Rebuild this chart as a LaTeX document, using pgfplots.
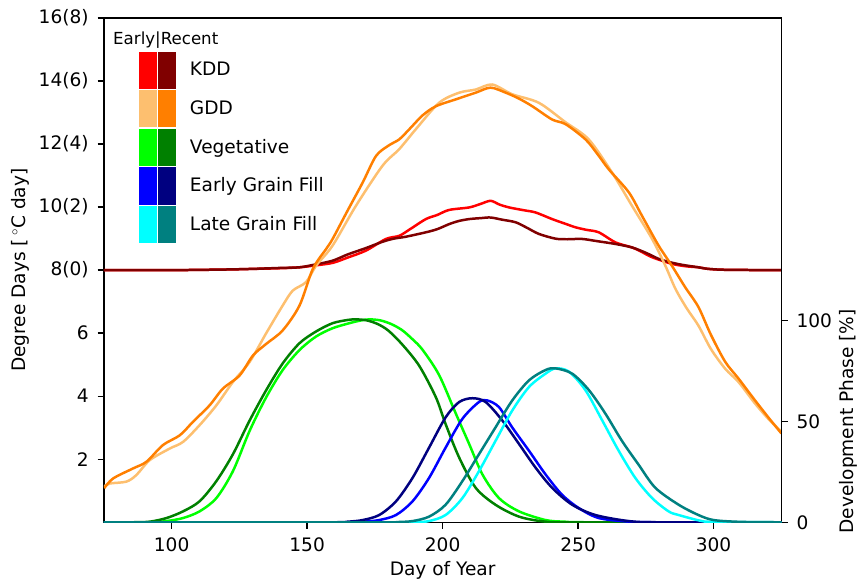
\documentclass[border=0pt]{standalone}
\usepackage{fontspec}
\setmainfont{DejaVu Sans}
\usepackage{pgfplots}
\pgfplotsset{compat=1.18}

\definecolor{kddE}{HTML}{FF0000}
\definecolor{kddR}{HTML}{800000}
\definecolor{gddE}{HTML}{FDBF6F}
\definecolor{gddR}{HTML}{FF7F00}
\definecolor{vegE}{HTML}{00FF00}
\definecolor{vegR}{HTML}{008000}
\definecolor{egfE}{HTML}{0000FF}
\definecolor{egfR}{HTML}{000080}
\definecolor{lgfE}{HTML}{00FFFF}
\definecolor{lgfR}{HTML}{008080}

% two colour patches, early | recent
\newcommand{\pair}[2]{%
  \fill[#1] (0pt,-12.6pt) rectangle (11.5pt,12.6pt);
  \fill[#2] (13.7pt,-12.6pt) rectangle (25.2pt,12.6pt);}

\pgfplotsset{
  common/.style={
    width=489pt, height=364pt, scale only axis,
    xmin=75, xmax=325,
    font=\fontsize{13.4}{16}\selectfont,
    tick label style={font=\fontsize{13.4}{16}\selectfont},
    /pgf/number format/assume math mode=true,
    axis line style={line width=1pt},
    tick style={line width=1pt, black},
    major tick length=4.5pt,
    tick align=outside,
    every axis plot/.append style={line width=1.8pt, mark=none, smooth, tension=0.5},
  }
}

\begin{document}
\begin{tikzpicture}
\begin{axis}[
  common,
  ymin=0, ymax=16,
  ytick={2,4,...,16},
  yticklabels={2,4,6,8(0),10(2),12(4),14(6),16(8)},
  xtick={100,150,...,300},
  xtick pos=lower, ytick pos=left,
  yticklabel style={xshift=-3pt},
  xticklabel style={yshift=-3pt},
  xlabel={Day of Year},
  ylabel={Degree Days [\,$^\circ$C day]},
  legend style={at={(0.051,0.934)}, anchor=north west, draw=none, fill=none,
    inner sep=0pt, row sep=0.8pt, column sep=8pt,
    font=\fontsize{13.4}{16}\selectfont},
  legend cell align=left,
]
\addlegendimage{legend image code/.code={\pair{kddE}{kddR}}}
\addlegendentry{KDD}
\addlegendimage{legend image code/.code={\pair{gddE}{gddR}}}
\addlegendentry{GDD}
\addlegendimage{legend image code/.code={\pair{vegE}{vegR}}}
\addlegendentry{Vegetative}
\addlegendimage{legend image code/.code={\pair{egfE}{egfR}}}
\addlegendentry{Early Grain Fill}
\addlegendimage{legend image code/.code={\pair{lgfE}{lgfR}}}
\addlegendentry{Late Grain Fill}

% KDD early
\addplot[kddE, forget plot] coordinates {
(75,8.0) (100,8.0) (120,8.02) (130,8.04) (140,8.06) (147.2,8.09) (153,8.15)
(159.4,8.23) (165,8.4) (171.7,8.62) (179.1,8.99) (184,9.09) (188,9.3)
(193.8,9.62) (198,9.75) (202.4,9.91) (209.8,9.99) (214,10.1) (217.7,10.2)
(221,10.08) (224.5,9.99) (230,9.9) (234.3,9.83) (240.4,9.62) (245,9.48)
(249,9.36) (253,9.28) (257.6,9.2) (263.8,8.88) (269.9,8.72) (273,8.6)
(277.3,8.41) (284.6,8.2) (290,8.12) (294.4,8.09) (298,8.04) (305,8.01) (325,8.0)};
% KDD recent
\addplot[kddR, forget plot] coordinates {
(75,8.0) (100,8.0) (120,8.02) (130,8.04) (140,8.07) (147.2,8.09) (153,8.18)
(159.4,8.3) (165,8.5) (171.7,8.7) (177.8,8.9) (182,9.0) (186.4,9.06)
(193.8,9.2) (198,9.3) (202.4,9.46) (206,9.56) (209.8,9.62) (214,9.65)
(217.7,9.67) (222,9.6) (226.9,9.52) (231,9.35) (235.5,9.15) (241.6,9.0)
(246,8.98) (251.4,8.99) (257,8.92) (263.8,8.83) (269.9,8.72) (275,8.55)
(279.7,8.36) (284,8.25) (288.3,8.17) (294.4,8.09) (298,8.04) (305,8.01) (325,8.0)};
% GDD early
\addplot[gddE, forget plot] coordinates {
(75,1.13) (77.2,1.23) (83.3,1.29) (87,1.5) (91.9,1.97) (99.3,2.34)
(104.2,2.55) (110.3,3.08) (116.5,3.71) (122.6,4.45) (128.8,5.09) (134.9,6.0)
(141,6.88) (144.7,7.35) (149.6,7.62) (153.3,8.14) (159.4,8.78) (168,10.04)
(177.8,11.31) (184,11.84) (190.1,12.47) (198.7,13.31) (206.1,13.63)
(212.2,13.73) (218.3,13.89) (225.7,13.58) (235.5,13.31) (245.4,12.69)
(253.9,12.15) (262.5,11.1) (269.9,10.04) (277.3,8.99) (282.2,8.14)
(285.9,7.41) (290,6.8) (294.4,6.24) (299,5.5) (304.3,4.87) (309.2,4.45)
(315,3.8) (320,3.3) (325,2.88)};
% GDD recent
\addplot[gddR, forget plot] coordinates {
(75.1,1.08) (78.4,1.39) (85.8,1.71) (90.7,1.92) (96.8,2.45) (103,2.76)
(107.9,3.19) (114,3.71) (118.9,4.24) (125.1,4.66) (130,5.29) (134.9,5.66)
(141,6.09) (147.2,6.88) (152.1,8.04) (157,8.67) (159.4,8.99) (165,9.9)
(170.5,10.78) (175.4,11.62) (180,11.95) (184,12.15) (187.7,12.47)
(192.6,12.91) (197.5,13.2) (204.9,13.42) (212.2,13.63) (217.7,13.79)
(223.3,13.63) (228,13.45) (233.1,13.2) (240.4,12.78) (245.4,12.63)
(252.7,12.15) (257,11.7) (261.3,11.2) (268.7,10.47) (273.6,9.72)
(279.7,8.78) (284.6,8.14) (289.5,7.46) (294.4,6.83) (299,5.95) (304.3,5.09)
(309.2,4.56) (315,3.9) (320,3.35) (325,2.82)};

\node[font=\fontsize{12}{14}\selectfont] at (axis description cs:0.0913,0.9565) {Early|Recent};
\end{axis}

\begin{axis}[
  common,
  ymin=0, ymax=250,
  ytick={0,50,100},
  axis y line*=right, axis x line=none,
  yticklabel style={xshift=3pt},
  ylabel={Development Phase [\%]},
  ylabel style={at={(axis description cs:1.099,0.2)}, anchor=center, rotate=0},
]
% Vegetative early
\addplot[vegE] coordinates {
(75,0) (92,0) (98.1,0.6) (104.2,2.1) (110.3,5.4) (116.5,12.0) (122.6,25.3)
(128.8,45.4) (134.9,62.0) (141,75.5) (147.2,85.4) (153.3,92.1) (159.4,96.2)
(165.6,98.7) (170,100.1) (173,100.6) (177,100.1) (181,98.3) (185,95.3)
(189,90.6) (192.6,85.5) (198.7,73.0) (204.9,53.8) (209.8,38.8) (214.7,23.7)
(220.8,12.0) (228.2,5.4) (238,1.1) (245,0.3) (255,0) (325,0)};
% Vegetative recent
\addplot[vegR] coordinates {
(75,0) (85,0) (91.9,0.3) (98.1,2.1) (104.2,5.4) (110.3,10.4) (116.5,20.4)
(122.6,33.7) (128.8,50.5) (134.9,65.5) (141,78.8) (147.2,88.8) (153.3,94.6)
(159.4,98.7) (165,100.3) (168,100.6) (172,100.1) (176,98.3) (180,95.0)
(185.2,88.0) (191.4,77.5) (197.5,62.0) (201.1,48.7) (206.1,32.1)
(212.2,17.1) (219.5,8.7) (228.2,2.8) (238,0.3) (250,0) (325,0)};
% Early grain fill early
\addplot[egfE] coordinates {
(75,0) (165,0) (171,0.3) (176.6,1.1) (182.8,3.6) (188.9,10.4) (195,22.0) (201.1,37.0)
(207.3,51.3) (213.4,59.6) (216.5,60.4) (220.8,57.1) (225.7,47.0)
(231.9,35.4) (238,23.7) (244.1,13.6) (250.3,7.0) (257.6,2.1) (268.7,0.3)
(280,0) (325,0)};
% Early grain fill recent
\addplot[egfR] coordinates {
(75,0) (158,0) (165,0.3) (170.5,1.1) (176.6,3.6) (182.8,10.4) (188.9,22.0) (195,37.0)
(201.1,52.0) (206.1,59.6) (211,61.5) (215.9,59.6) (222,50.5) (228.2,38.8)
(234.3,27.1) (240.4,17.1) (247.8,8.7) (256.4,3.6) (268.7,0.6) (280,0) (325,0)};
% Late grain fill early
\addplot[lgfE] coordinates {
(75,0) (185,0) (190,0.1) (195,0.6) (201.1,3.6) (207.3,12.0) (213.4,25.3) (219.5,40.3)
(225.7,55.4) (231.9,67.1) (238,73.7) (241.7,76.3) (246.6,74.7) (252.7,65.5)
(258.9,50.5) (265,35.4) (271.1,22.0) (277.3,12.0) (283.4,5.4) (287.1,3.6)
(295,0.8) (300,0.2) (325,0)};
% Late grain fill recent
\addplot[lgfR] coordinates {
(75,0) (178,0) (183,0.1) (188.9,0.6) (195,2.8) (201.1,8.7) (207.3,20.4) (213.4,33.7)
(219.5,47.0) (225.7,60.4) (231.9,70.4) (238,75.5) (241.7,76.3) (247.8,73.7)
(254,65.5) (260.1,53.8) (266.2,40.3) (272.3,28.6) (278.5,17.1) (287.1,8.7)
(294.4,3.6) (300,1.1) (310,0.2) (325,0)};
\end{axis}
% keep the reference's margins round the axis
\path ([xshift=-75pt]current axis.west) ([xshift=57pt]current axis.east)
      ([yshift=13pt]current axis.north) ([yshift=-41pt]current axis.south);
\end{tikzpicture}
\end{document}
